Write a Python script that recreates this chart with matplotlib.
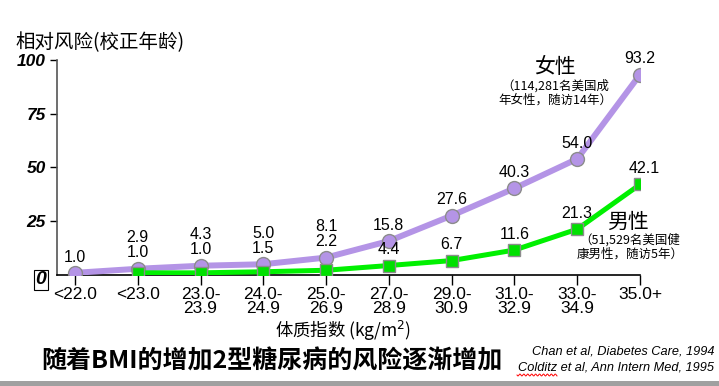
import numpy as np
import matplotlib.pyplot as plt
from matplotlib.patches import Rectangle

# 数据
categories = ['<22.0', '<23.0', '23.0-\n23.9', '24.0-\n24.9', '25.0-\n26.9',
              '27.0-\n28.9', '29.0-\n30.9', '31.0-\n32.9', '33.0-\n34.9', '35.0+']
women = [1.0, 2.9, 4.3, 5.0, 8.1, 15.8, 27.6, 40.3, 54.0, 93.2]
men_idx = [1, 2, 3, 4, 5, 6, 7, 8, 9]
men = [1.0, 1.0, 1.5, 2.2, 4.4, 6.7, 11.6, 21.3, 42.1]
yticks = [25, 50, 75, 100]

CJK = ['Noto Sans CJK SC', 'Liberation Sans', 'DejaVu Sans']
LAT = ['Liberation Sans', 'DejaVu Sans']
plt.rcParams['font.family'] = LAT

fig = plt.figure(figsize=(7.19, 3.86), dpi=100)
ax = fig.add_axes([0.0793, 0.2876, 0.8108, 0.557])

purple = '#B494E6'
green = '#00F000'

ax.plot(range(len(women)), women, color=purple, lw=4.3, marker='o', ms=10,
        mfc=purple, mec='#8C8C8C', mew=1.0, zorder=3, solid_capstyle='round')
ax.plot(men_idx, men, color=green, lw=3.6, marker='s', ms=8,
        mfc='#00E000', mec='#8C8C8C', mew=1.0, zorder=4)

# 数据标签
men_map = dict(zip(men_idx, men))
for i, w in enumerate(women):
    if i in men_map and i <= 4:
        txt = f'{w:.1f}\n{men_map[i]:.1f}'
    else:
        txt = f'{w:.1f}'
    ax.annotate(txt, (i, w), xytext=(0, 6), textcoords='offset points',
                ha='center', va='bottom', fontsize=11.5, linespacing=1.0)
for i, m in zip(men_idx, men):
    if i <= 4:
        continue
    dx = 3 if i == 9 else 0
    ax.annotate(f'{m:.1f}', (i, m), xytext=(dx, 6), textcoords='offset points',
                ha='center', va='bottom', fontsize=11.5)

ax.set_xlim(-0.286, 9.0)
ax.set_ylim(0, 100)
ax.set_xticks(range(len(categories)))
ax.set_xticklabels(categories, fontsize=12.5, linespacing=0.9)
ax.set_yticks(yticks)
ax.set_yticklabels([str(t) for t in yticks], fontsize=12.5,
                   fontweight='bold', fontstyle='italic')
ax.tick_params(axis='x', length=7, width=1, pad=2)
ax.tick_params(axis='y', length=5, width=1, pad=3)
for s in ['top', 'right']:
    ax.spines[s].set_visible(False)
ax.spines['left'].set_color('#555555')
ax.spines['left'].set_linewidth(1.2)
ax.spines['bottom'].set_linewidth(1.2)

# "0" 标签带框
fig.text(41 / 719, 1 - 280 / 386, '0', fontsize=14, fontweight='bold',
         fontstyle='italic', ha='center', va='center',
         bbox=dict(boxstyle='square,pad=0.08', fc='white', ec='black', lw=0.8))

# 文字
fig.text(15 / 719, 1 - 43 / 386, '相对风险(校正年龄)', family=CJK, fontsize=14,
         ha='left', va='center')
fig.text(555 / 719, 1 - 67 / 386, '女性', family=CJK, fontsize=15,
         ha='center', va='center')
fig.text(555 / 719, 1 - 93 / 386, '（114,281名美国成\n年女性，随访14年）', family=CJK,
         fontsize=9, ha='center', va='center', linespacing=1.15)
fig.text(628 / 719, 1 - 222 / 386, '男性', family=CJK, fontsize=15,
         ha='center', va='center')
fig.text(630 / 719, 1 - 247 / 386, '（51,529名美国健\n康男性，随访5年）', family=CJK,
         fontsize=9, ha='center', va='center', linespacing=1.15)
fig.text(343 / 719, 1 - 331 / 386, '体质指数 (kg/m$^2$)', family=CJK, fontsize=12.5,
         ha='center', va='center')
fig.text(272 / 719, 1 - 362 / 386, '随着BMI的增加2型糖尿病的风险逐渐增加', family=CJK,
         fontsize=18, fontweight='bold', ha='center', va='center')
fig.text(714 / 719, 1 - 351 / 386, 'Chan et al, Diabetes Care, 1994', fontsize=9.2,
         fontstyle='italic', ha='right', va='center')
fig.text(714 / 719, 1 - 367 / 386, 'Colditz et al, Ann Intern Med, 1995', fontsize=9.2,
         fontstyle='italic', ha='right', va='center')

# 拼写检查红色波浪线
wx = np.linspace(517, 557, 60)
wy = 375 + 1.0 * np.sin((wx - 517) * 1.6)
fig.add_artist(plt.Line2D(wx / 719, 1 - wy / 386, transform=fig.transFigure,
                          color='red', lw=0.7))

# 底部灰条
fig.add_artist(Rectangle((0, 0), 1, 5 / 386, transform=fig.transFigure,
                         fc='#A0A0A0', ec='none'))

fig.savefig('out.png', dpi=100)
